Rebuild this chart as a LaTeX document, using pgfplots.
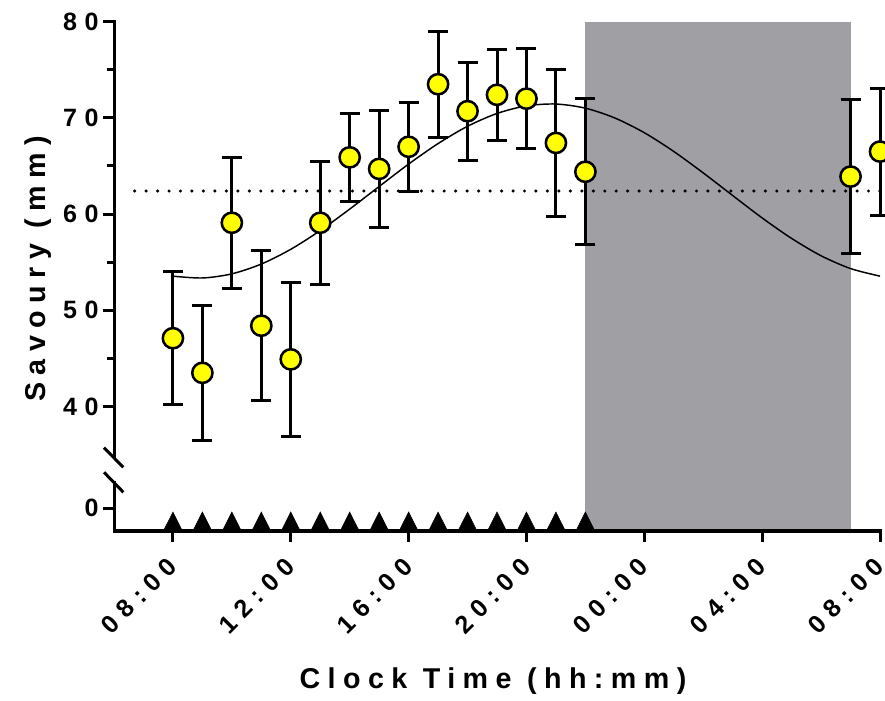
\documentclass[border=0pt]{standalone}
\usepackage{pgfplots}
\pgfplotsset{compat=1.18}
\usepackage{fontspec}
\setmainfont{Liberation Sans}
\newfontfamily\gp[LetterSpace=30]{Liberation Sans}
\newfontfamily\gplab[LetterSpace=26]{Liberation Sans}
\definecolor{nightgray}{RGB}{160,159,164}
\definecolor{dotyellow}{RGB}{255,255,0}

% mean savoury score with SEM, hours of clock time (31 = 07:00, 32 = 08:00 next day)
\pgfplotstableread{
t  m     e
8  47.1  6.9
9  43.5  7.0
10 59.1  6.8
11 48.4  7.8
12 44.9  8.0
13 59.1  6.4
14 65.9  4.6
15 64.7  6.1
16 67.0  4.6
17 73.5  5.5
18 70.7  5.1
19 72.4  4.7
20 72.0  5.2
21 67.4  7.6
22 64.4  7.6
31 63.9  8.0
32 66.5  6.6
}\savoury

\pgfplotsset{
  gpaxis/.style={
    scale only axis,
    width=574.5pt,
    xmin=6, xmax=32,
    axis line style={line width=2.25pt, line cap=rect},
    tick style={line width=2.25pt, black},
    tick align=outside,
    major tick length=8pt,
    minor tick length=5pt,
    tick label style={font=\gp\bfseries\fontsize{18.8}{20}\selectfont},
    /pgf/number format/assume math mode=true,
  },
}

\begin{document}
\begin{tikzpicture}
\useasboundingbox (0,0) rectangle (663.75pt,525pt);

% upper part of the broken y axis
\begin{axis}[gpaxis,
  at={(85.5pt,181.875pt)}, anchor=south west,
  height=326.85pt,
  ymin=34.7, ymax=80,
  hide x axis,
  axis y line*=left,
  ytick={40,50,60,70,80},
  yticklabels={40,50,60,70,80},
  minor ytick={45,55,65,75},
  clip=false,
]
% dark phase
\fill[nightgray] (axis cs:22,27.2) rectangle (axis cs:31,80);
% MESOR
\addplot[black, line width=2.6pt, line cap=round, dash pattern=on 0pt off 8.6pt]
  coordinates {(6.7,62.4) (32,62.4)};
% cosinor fit
\addplot[black, line width=1.1pt, smooth] coordinates {
  (8,53.55) (9,53.36) (10,53.79) (11,54.81) (12,56.34) (13,58.29)
  (14,60.52) (15,62.87) (16,65.20) (17,67.33) (18,69.13) (19,70.46)
  (20,71.25) (21,71.44) (22,71.01) (23,69.99) (24,68.46) (25,66.51)
  (26,64.28) (27,61.93) (28,59.60) (29,57.47) (30,55.67) (31,54.34)
  (32,53.55)
};
\addplot[only marks, mark=*, mark size=7.6pt,
  mark options={fill=dotyellow, draw=black, line width=1.9pt},
  error bars/.cd, y dir=both, y explicit,
  error bar style={line width=2.25pt, black},
  error mark options={rotate=90, line width=2.25pt, mark size=7.5pt, black},
] table[x=t, y=m, y error=e] {\savoury};
\end{axis}

% lower part with meal markers
\begin{axis}[gpaxis,
  at={(85.5pt,126.75pt)}, anchor=south west,
  height=36.75pt,
  ymin=-23, ymax=26,
  axis x line*=bottom,
  axis y line*=left,
  ytick={0},
  yticklabels={0},
  xtick={8,12,16,20,24,28,32},
  xticklabels={08:00,12:00,16:00,20:00,00:00,04:00,08:00},
  xticklabel style={yshift=-13pt, xshift=2pt, rotate=45, anchor=east},
  clip=false,
]
\addplot[only marks, mark=triangle*, mark size=7.8pt, black,
  mark options={yscale=1.15}] coordinates {
  (8,-16) (9,-16) (10,-16) (11,-16) (12,-16) (13,-16) (14,-16) (15,-16)
  (16,-16) (17,-16) (18,-16) (19,-16) (20,-16) (21,-16) (22,-16)
};
\end{axis}

% axis break marks
\draw[line width=2.25pt] (78pt,189.2pt) -- (92.5pt,174.5pt);
\draw[line width=2.25pt] (78pt,170.8pt) -- (92.5pt,155.8pt);

\node[anchor=base, font=\gplab\bfseries\fontsize{21.5}{23}\selectfont]
  at (369.75pt,9pt) {Clock Time (hh:mm)};
\node[anchor=base, rotate=90, font=\gplab\bfseries\fontsize{21.5}{23}\selectfont]
  at (33.75pt,323.25pt) {Savoury (mm)};
\end{tikzpicture}
\end{document}
